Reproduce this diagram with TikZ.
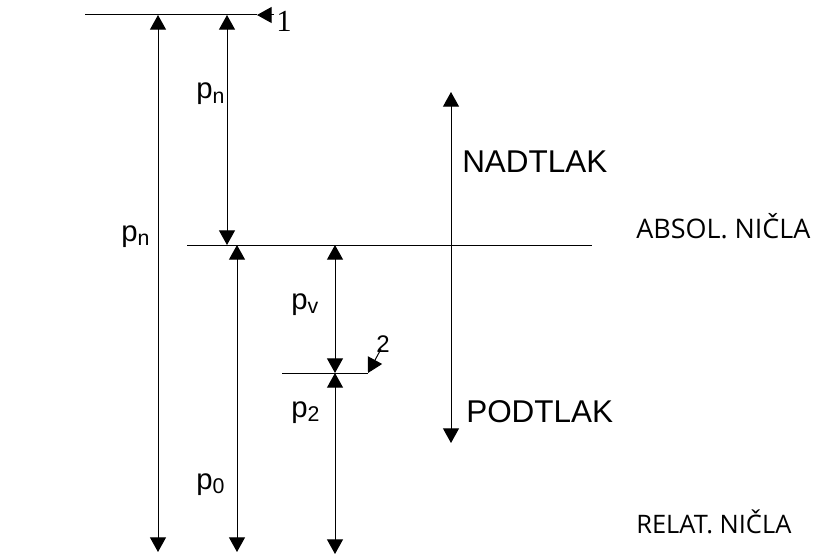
\documentclass[tikz,border=0pt]{standalone}
\usepackage{fontspec}
\setmainfont{Liberation Sans}
\newfontfamily\opensans{Open Sans}
\newfontfamily\serifone{Liberation Serif}
\usetikzlibrary{arrows.meta}
\tikzset{
  ln/.style={line width=0.75pt},
  dimarrow/.style={ln, {Triangle[width=12pt,length=11pt]}-{Triangle[width=12pt,length=11pt]}},
  leader/.style={ln, -{Triangle[width=12pt,length=11pt]}},
  lbl/.style={inner sep=0pt, anchor=base west, font=\fontsize{22}{22}\selectfont},
  big/.style={inner sep=0pt, anchor=base west, font=\fontsize{23.6}{23.6}\selectfont},
  note/.style={inner sep=0pt, anchor=base west, font=\opensans},
}
\newcommand{\subsc}[1]{\raisebox{-3pt}{\fontsize{16}{16}\selectfont #1}}
\begin{document}
\begin{tikzpicture}[x=0.75pt,y=-0.75pt]
\useasboundingbox (0,0) rectangle (816,556);
% horizontal levels
\coordinate (t1) at (85,15);   \coordinate (t2) at (257,15);
\coordinate (m1) at (187,245); \coordinate (m2) at (592,245);
\coordinate (b1) at (282,373); \coordinate (b2) at (368,373);
\draw[ln] (t1) -- (t2);
\draw[ln] (m1) -- (m2);
\draw[ln] (b1) -- (b2);
% leaders
\coordinate (oneTail) at (274,15);
\draw[leader] (oneTail) -- (t2);
\coordinate (twoTail) at (381,349);
\draw[leader] (twoTail) -- (b2);
% vertical dimension arrows
\coordinate (a1t) at (158,15);  \coordinate (a1b) at (158,552);
\coordinate (a2t) at (227,15);  \coordinate (a2b) at (227,245);
\coordinate (a3t) at (237,245); \coordinate (a3b) at (237,552);
\coordinate (a4t) at (335,245); \coordinate (a4b) at (335,373);
\coordinate (a5t) at (335,373); \coordinate (a5b) at (335,554);
\coordinate (a6t) at (451,92);  \coordinate (a6b) at (451,443);
\draw[dimarrow] (a1t) -- (a1b);
\draw[dimarrow] (a2t) -- (a2b);
\draw[dimarrow] (a3t) -- (a3b);
\draw[dimarrow] (a4t) -- (a4b);
\draw[dimarrow] (a5t) -- (a5b);
\draw[dimarrow] (a6t) -- (a6b);
% labels
\node[lbl] (pnTop) at (196,99) {p\subsc{n}};
\node[lbl] (pnLeft) at (121,241) {p\subsc{n}};
\node[lbl] (pv) at (291,309) {p\subsc{v}};
\node[lbl] (p2) at (291,417) {p\subsc{2}};
\node[lbl] (p0) at (196,489) {p\subsc{0}};
\node[inner sep=0pt, anchor=base west, font=\serifone\fontsize{23}{23}\selectfont] (one) at (276,32) {1};
\node[inner sep=0pt, anchor=base west, font=\fontsize{18}{18}\selectfont] (two) at (376,352) {2};
\node[big] (nad) at (462,172) {NADTLAK};
\node[big] (pod) at (466,422) {PODTLAK};
\node[note, font=\opensans\fontsize{20.2}{20.2}\selectfont] (abs) at (636,238) {ABSOL. NIČLA};
\node[note, font=\opensans\fontsize{19.1}{19.1}\selectfont] (rel) at (636,533) {RELAT. NIČLA};
\end{tikzpicture}
\end{document}
